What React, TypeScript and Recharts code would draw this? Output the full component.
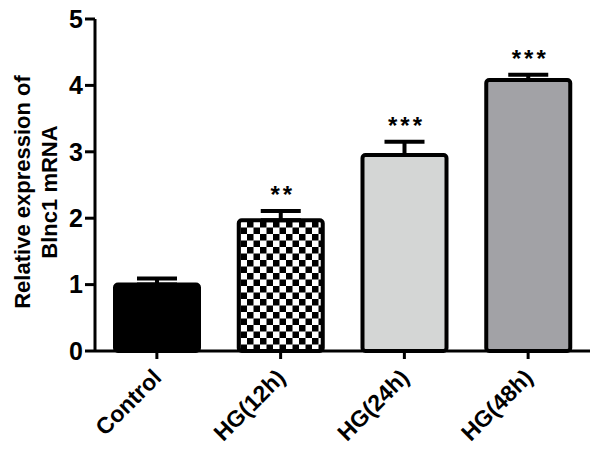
import React from 'react'
import { BarChart, Bar, XAxis, YAxis, ErrorBar, LabelList, Cell } from 'recharts'

const groups = ['Control', 'HG(12h)', 'HG(24h)', 'HG(48h)']
const means = [1.0, 1.97, 2.95, 4.08]
const sems = [0.09, 0.14, 0.2, 0.08]
const stars = ['', '**', '***', '***']
const fills = ['#000000', 'url(#checker)', '#d4d6d5', '#a2a2a6']
const yTicks = [0, 1, 2, 3, 4, 5]

const data = groups.map((g, i) => ({
  name: g,
  value: means[i],
  err: [0, sems[i]],
}))

const font = '"Liberation Sans", Arial, sans-serif'

const XTick = (props: any) => {
  const { x, y, payload } = props
  return (
    <text
      x={x + 6}
      y={y + 18}
      transform={`rotate(-45, ${x + 6}, ${y + 18})`}
      textAnchor="end"
      fontFamily={font}
      fontWeight="bold"
      fontSize={23}
      fill="#000"
    >
      {payload.value}
    </text>
  )
}

const StarLabel = (props: any) => {
  const { x, y, width, height, index } = props
  const s = stars[index]
  if (!s) return null
  // pixel per unit taken from the bar geometry itself
  const pxPerUnit = height / means[index]
  const capY = y - sems[index] * pxPerUnit
  return (
    <text
      x={x + width / 2 + 2}
      y={capY - 8}
      textAnchor="middle"
      fontFamily={font}
      fontWeight="bold"
      fontSize={24}
      letterSpacing={3}
      fill="#000"
    >
      {s}
    </text>
  )
}

const YLabel = () => (
  <text
    transform="translate(36, 192) rotate(-90)"
    textAnchor="middle"
    fontFamily={font}
    fontWeight="bold"
    fontSize={22}
    fill="#000"
  >
    <tspan x={0} dy={-6}>Relative expression of</tspan>
    <tspan x={0} dy={27}>Blnc1 mRNA</tspan>
  </text>
)

export default function App() {
  return (
    <div style={{ position: 'absolute', left: 0, top: 0, width: 600, height: 454, background: '#fff' }}>
      <BarChart
        width={600}
        height={454}
        data={data}
        margin={{ top: 19, right: 10, bottom: 0, left: 0 }}
      >
        <defs>
          <pattern id="checker" width={13} height={13} patternUnits="userSpaceOnUse">
            <rect width={13} height={13} fill="#fff" />
            <rect x={0} y={0} width={6.5} height={6.5} fill="#000" />
            <rect x={6.5} y={6.5} width={6.5} height={6.5} fill="#000" />
          </pattern>
        </defs>
        <XAxis
          dataKey="name"
          height={103}
          axisLine={{ stroke: '#000', strokeWidth: 3 }}
          tickLine={{ stroke: '#000', strokeWidth: 3 }}
          tickSize={8}
          tick={<XTick />}
          interval={0}
        />
        <YAxis
          width={95}
          domain={[0, 5]}
          ticks={yTicks}
          axisLine={{ stroke: '#000', strokeWidth: 3 }}
          tickLine={{ stroke: '#000', strokeWidth: 3 }}
          tickSize={10}
          tick={{ fill: '#000', fontFamily: font, fontWeight: 'bold', fontSize: 25 }}
          label={<YLabel />}
        />
        <Bar
          dataKey="value"
          barSize={84}
          stroke="#000"
          strokeWidth={4}
          radius={3}
          isAnimationActive={false}
        >
          {data.map((d, i) => (
            <Cell key={d.name} fill={fills[i]} />
          ))}
          <ErrorBar dataKey="err" width={20} stroke="#000" strokeWidth={4} direction="y" />
          <LabelList dataKey="value" content={<StarLabel />} />
        </Bar>
      </BarChart>
    </div>
  )
}
